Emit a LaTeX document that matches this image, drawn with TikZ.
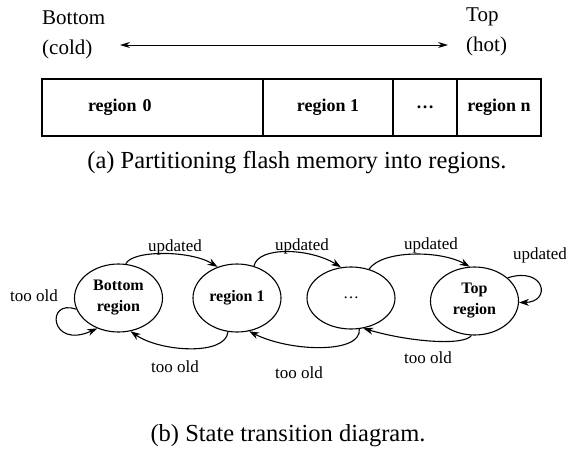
\documentclass[tikz,border=0pt]{standalone}
\usepackage{fontspec}
\setmainfont{Liberation Serif}
\usetikzlibrary{shapes.geometric,arrows.meta}
\begin{document}
\begin{tikzpicture}[x=1pt,y=-1pt,
  tip/.style={-{Stealth[length=10pt,width=7pt]}},
  line/.style={line width=1.1pt},
  cell/.style={draw,line width=1.1pt,minimum height=57pt,inner sep=0pt,font=\fontsize{18}{20}\selectfont\bfseries},
  state/.style={draw,ellipse,line width=1.1pt,minimum width=88pt,minimum height=68pt,inner sep=0pt,align=center,font=\fontsize{16}{21}\selectfont\bfseries},
  lbl/.style={font=\fontsize{17}{20}\selectfont,inner sep=0pt},
  captext/.style={font=\fontsize{24.5}{28}\selectfont,inner sep=0pt},
  side/.style={font=\fontsize{21}{30}\selectfont,align=left,inner sep=0pt}
]
\useasboundingbox (0,0) rectangle (566,464);
% top part
\node[side,anchor=west] (bot) at (42,35) {Bottom\\(cold)};
\node[side,anchor=west] (top) at (466,32) {Top\\(hot)};
\coordinate (aL) at (120,45);
\coordinate (aR) at (448,45);
\draw[line width=0.9pt,{Stealth[length=10pt,width=6pt]}-{Stealth[length=10pt,width=6pt]}] (aL) -- (aR);
\node[cell,minimum width=221pt,text width=129pt,align=left,inner xsep=46pt] (c0) at (152.5,107.5) {region 0};
\node[cell,minimum width=130pt] (c1) at (328,107.5) {region 1};
\node[cell,minimum width=64pt] (c2) at (425,107.5) {\dots};
\node[cell,minimum width=84pt] (c3) at (499,107.5) {region n};
\node[captext] (capa) at (297,163) {(a) Partitioning flash memory into regions.};
% state diagram
\node[state] (s0) at (118.5,298) {Bottom\\region};
\node[state] (s1) at (237,298) {region 1};
\node[state,minimum height=62pt] (s2) at (351,298) {\mdseries\dots};
\node[state] (s3) at (474.5,301) {Top\\region};
% updated arrows
\draw[line,tip] (s0.78) .. controls (132,250) and (190,250) .. (s1.122);
\draw[line,tip] (s1.62) .. controls (258,246) and (310,248) .. (s2.108);
\draw[line,tip] (s2.58) .. controls (382,250) and (440,250) .. (s3.98);
\draw[line,tip] (s3.35) .. controls (545,266) and (552,302) .. (s3.-2);
% too old arrows
\draw[line,tip] (s0.195) .. controls (45,298) and (50,350) .. (s0.235);
\draw[line,tip] (s1.255) .. controls (226,356) and (160,352) .. (s0.290);
\draw[line,tip] (s2.285) .. controls (362,354) and (290,352) .. (s1.290);
\draw[line,tip] (s3.265) .. controls (464,346) and (410,342) .. (s2.292);
% labels
\node[lbl] (u1) at (175,247) {updated};
\node[lbl] (u2) at (302,246) {updated};
\node[lbl] (u3) at (431,245) {updated};
\node[lbl] (u4) at (540,255) {updated};
\node[lbl] (t0) at (34,296) {too old};
\node[lbl] (t1) at (175,367) {too old};
\node[lbl] (t2) at (299,373) {too old};
\node[lbl] (t3) at (428,358) {too old};
\node[captext] (capb) at (288,436) {(b) State transition diagram.};
\end{tikzpicture}
\end{document}
